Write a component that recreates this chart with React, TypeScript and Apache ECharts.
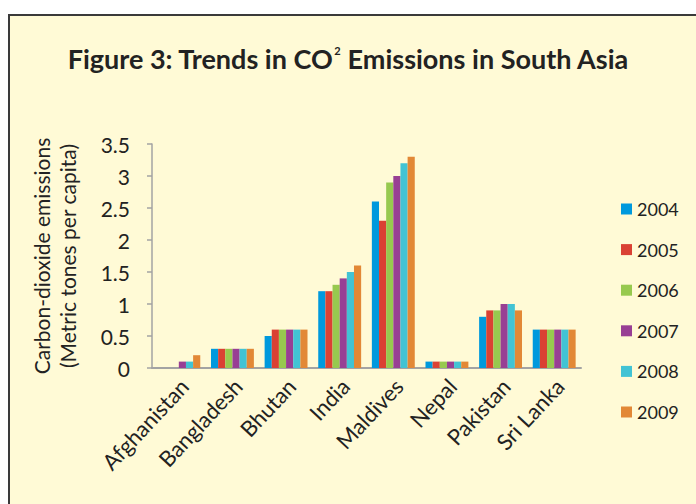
import React, { useEffect, useRef } from "react";
import * as echarts from "echarts";

const categories = ["Afghanistan", "Bangladesh", "Bhutan", "India", "Maldives", "Nepal", "Pakistan", "Sri Lanka"];
const years = ["2004", "2005", "2006", "2007", "2008", "2009"];
const v2004 = [0, 0.3, 0.5, 1.2, 2.6, 0.1, 0.8, 0.6];
const v2005 = [0, 0.3, 0.6, 1.2, 2.3, 0.1, 0.9, 0.6];
const v2006 = [0, 0.3, 0.6, 1.3, 2.9, 0.1, 0.9, 0.6];
const v2007 = [0.1, 0.3, 0.6, 1.4, 3.0, 0.1, 1.0, 0.6];
const v2008 = [0.1, 0.3, 0.6, 1.5, 3.2, 0.1, 1.0, 0.6];
const v2009 = [0.2, 0.3, 0.6, 1.6, 3.3, 0.1, 0.9, 0.6];
const seriesValues = [v2004, v2005, v2006, v2007, v2008, v2009];
const colors = ["#0099DD", "#DA4133", "#97C94F", "#983F94", "#42C3D4", "#E28836"];

const FONT = "Lato, 'Open Sans', sans-serif";

export default function App() {
  const ref = useRef<HTMLDivElement>(null);
  useEffect(() => {
    document.body.style.margin = "0";
    const chart = echarts.init(ref.current!, null, { renderer: "svg" });
    chart.setOption({
      animation: false,
      backgroundColor: "transparent",
      textStyle: { fontFamily: FONT },
      color: colors,
      title: {
        text: "Figure 3: Trends in CO{sup|2} Emissions in South Asia",
        left: "center",
        top: 40,
        textStyle: {
          fontFamily: FONT,
          fontSize: 27,
          fontWeight: "bold",
          color: "#222",
          rich: {
            sup: { fontFamily: FONT, fontSize: 11, fontWeight: "bold", color: "#222", verticalAlign: "top", padding: [0, 0, 14, 1] },
          },
        },
      },
      legend: {
        orient: "vertical",
        left: 616,
        top: 194,
        itemWidth: 11,
        itemHeight: 11,
        itemGap: 20.6,
        icon: "rect",
        data: years,
        textStyle: { fontFamily: FONT, fontSize: 18, color: "#222", lineHeight: 20 },
      },
      grid: { left: 152, right: 115, top: 144, bottom: 136 },
      xAxis: {
        type: "category",
        data: categories,
        axisLine: { lineStyle: { color: "#A3A3A3", width: 2 } },
        axisTick: { show: false },
        axisLabel: {
          rotate: 47,
          interval: 0,
          fontFamily: FONT,
          fontSize: 22,
          color: "#222",
          margin: 20,
          padding: [40, -8, 0, 0],
        },
      },
      yAxis: {
        type: "value",
        min: 0,
        max: 3.5,
        interval: 0.5,
        name: "Carbon-dioxide emissions\n(Metric tones per capita)",
        nameLocation: "middle",
        nameRotate: 90,
        nameGap: 72,
        nameTextStyle: { fontFamily: FONT, fontSize: 21, color: "#222", lineHeight: 26 },
        axisLine: { show: true, lineStyle: { color: "#A3A3A3", width: 1.5 } },
        axisTick: { show: true, length: 5, lineStyle: { color: "#A3A3A3", width: 1.5 } },
        splitLine: { show: false },
        axisLabel: { fontFamily: FONT, fontSize: 21, color: "#222", margin: 22 },
      },
      series: years.map((y, i) => ({
        name: y,
        type: "bar",
        data: seriesValues[i],
        barGap: "0%",
        barCategoryGap: "20%",
        itemStyle: { color: colors[i] },
      })),
    });
    return () => chart.dispose();
  }, []);
  return (
    <div style={{ position: "fixed", left: 0, top: 0, width: 696, height: 504, background: "#fff", overflow: "hidden" }}>
      <div
        style={{
          position: "absolute",
          left: 8,
          top: 14,
          width: 720,
          height: 520,
          background: "#FFFAD6",
          borderTop: "2.5px solid #3a3a3a",
          borderLeft: "2.5px solid #3a3a3a",
        }}
      />
      <div ref={ref} style={{ position: "absolute", left: 0, top: 0, width: 696, height: 504 }} />
    </div>
  );
}
